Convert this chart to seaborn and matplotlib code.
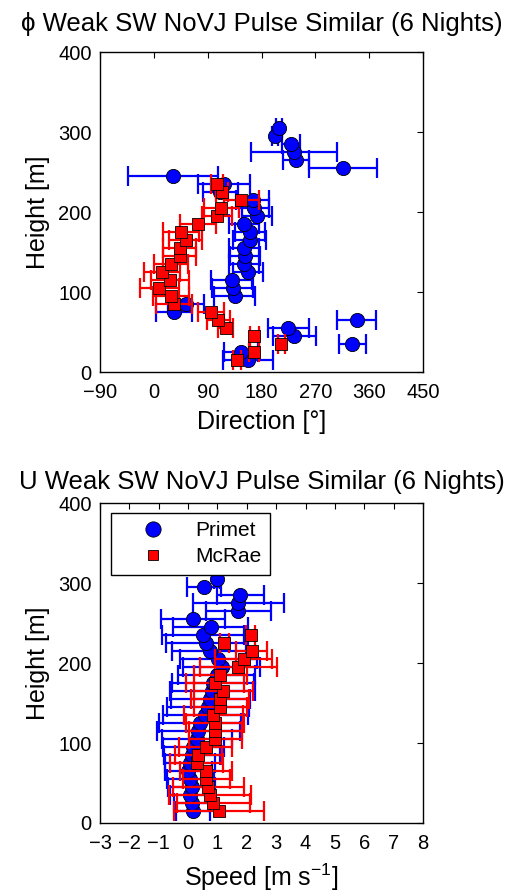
import matplotlib
matplotlib.use('Agg')
import matplotlib.pyplot as plt
from matplotlib.lines import Line2D
import seaborn as sns
import pandas as pd

# ---------------- data ----------------
heights_primet = [15, 25, 35, 45, 55, 65, 75, 85, 95, 105, 115, 125, 135, 145, 155,
                  165, 175, 185, 195, 205, 215, 225, 235, 245, 255, 265, 275, 285, 295, 305]
heights_mcrae = [15, 25, 35, 45, 55, 65, 75, 85, 95, 105, 115, 125, 135, 145, 155,
                 165, 175, 185, 195, 205, 215, 225, 235]

dir_primet = [157, 146, 332, 235, 225, 339, 33, 53, 135, 132, 130, 158, 150, 152, 150,
              160, 160, 150, 172, 168, 165, 111, 117, 32, 316, 238, 234, 230, 203, 210]
dir_primet_err = [42, 28, 22, 36, 34, 32, 30, 30, 34, 34, 34, 25, 25, 25, 25,
                  28, 25, 25, 25, 25, 28, 29, 43, 75, 57, 22, 72, 15, 5, 5]
dir_mcrae = [139, 167, 213, 168, 120, 108, 96, 33, 28, 9, 27, 13, 29, 43, 43,
             53, 45, 74, 106, 113, 146, 114, 106]
dir_mcrae_err = [7, 8, 6, 8, 12, 20, 22, 30, 30, 33, 32, 30, 28, 28, 28,
                 28, 30, 30, 25, 30, 29, 10, 10]

spd_primet = [0.16, 0.13, 0.07, 0.13, 0.07, 0.01, 0.05, 0.13, 0.18, 0.30, 0.35, 0.41, 0.58, 0.69, 0.75,
              0.83, 0.86, 0.97, 1.14, 1.03, 0.75, 0.60, 0.50, 0.77, 0.16, 1.71, 1.71, 1.77, 0.54, 0.98]
spd_primet_err = [0.57, 0.60, 0.70, 0.80, 0.80, 0.80, 0.85, 0.95, 1.05, 1.20, 1.40, 1.40, 1.45, 1.40, 1.35,
                  1.45, 1.40, 1.30, 1.30, 1.30, 1.30, 1.36, 1.40, 1.27, 1.08, 1.10, 1.56, 0.80, 0.57, 0.10]
spd_mcrae = [1.06, 0.86, 0.75, 0.69, 0.61, 0.61, 0.29, 0.35, 0.60, 0.92, 0.92, 0.92, 0.86, 1.09, 1.09,
             1.20, 0.92, 1.10, 1.71, 1.89, 2.17, 1.23, 2.13]
spd_mcrae_err = [1.53, 1.25, 1.40, 1.20, 0.80, 0.90, 0.90, 0.80, 0.90, 0.90, 0.90, 1.00, 1.00, 0.90, 1.00,
                 1.00, 1.00, 0.90, 1.30, 0.97, 0.53, 0.15, 0.15]

series_names = ['Primet', 'McRae']
dir_ticks = [-90, 0, 90, 180, 270, 360, 450]
spd_ticks = [-3, -2, -1, 0, 1, 2, 3, 4, 5, 6, 7, 8]
height_ticks = [0, 100, 200, 300, 400]
title_dir = 'ϕ Weak SW NoVJ Pulse Similar (6 Nights)'
title_spd = 'U Weak SW NoVJ Pulse Similar (6 Nights)'

# ---------------- style ----------------
sns.set_style('white')
plt.rcParams['font.family'] = ['Liberation Sans', 'DejaVu Sans']
plt.rcParams['mathtext.fontset'] = 'custom'
plt.rcParams['mathtext.rm'] = 'Liberation Sans'
plt.rcParams['mathtext.it'] = 'Liberation Sans:italic'
plt.rcParams['axes.unicode_minus'] = True
plt.rcParams['text.color'] = 'black'
plt.rcParams['axes.labelcolor'] = 'black'
plt.rcParams['xtick.color'] = 'black'
plt.rcParams['ytick.color'] = 'black'

BLUE = '#0000ff'
RED = '#ff0000'

df_p = pd.DataFrame({'h': heights_primet, 'dir': dir_primet, 'dir_err': dir_primet_err,
                     'spd': spd_primet, 'spd_err': spd_primet_err})
df_m = pd.DataFrame({'h': heights_mcrae, 'dir': dir_mcrae, 'dir_err': dir_mcrae_err,
                     'spd': spd_mcrae, 'spd_err': spd_mcrae_err})

fig = plt.figure(figsize=(5.13, 8.96), dpi=100)
ax1 = fig.add_axes([0.195, 0.5848, 0.6296, 0.357])
ax2 = fig.add_axes([0.195, 0.0815, 0.6296, 0.357])


def draw(ax, col, errcol):
    ax.errorbar(df_p[col], df_p['h'], xerr=df_p[errcol], fmt='none', ecolor=BLUE,
                elinewidth=1.6, capsize=7, capthick=1.6, zorder=2)
    sns.scatterplot(data=df_p, x=col, y='h', marker='o', s=105, color=BLUE,
                    edgecolor='black', linewidth=0.6, ax=ax, zorder=3, legend=False)
    ax.errorbar(df_m[col], df_m['h'], xerr=df_m[errcol], fmt='none', ecolor=RED,
                elinewidth=1.6, capsize=7, capthick=1.6, zorder=4)
    sns.scatterplot(data=df_m, x=col, y='h', marker='s', s=72, color=RED,
                    edgecolor='black', linewidth=0.6, ax=ax, zorder=5, legend=False)


def style(ax, xticks, xlabel, title, tpad):
    ax.set_xlim(xticks[0], xticks[-1])
    ax.set_ylim(0, 400)
    ax.set_xticks(xticks)
    ax.set_yticks(height_ticks)
    ax.tick_params(direction='in', top=True, right=True, length=4, width=0.8,
                   labelsize=14.5)
    ax.tick_params(axis='x', pad=8)
    ax.tick_params(axis='y', pad=6)
    for s in ax.spines.values():
        s.set_color('black')
        s.set_linewidth(1.0)
    ax.set_xlabel(xlabel, fontsize=18, labelpad=6)
    ax.set_ylabel('Height [m]', fontsize=18, labelpad=6)
    ax.set_title(title, fontsize=18.5, pad=tpad)


draw(ax1, 'dir', 'dir_err')
style(ax1, dir_ticks, 'Direction [°]', title_dir, 15)

draw(ax2, 'spd', 'spd_err')
style(ax2, spd_ticks, 'Speed [m s$^{-1}$]', title_spd, 10)

handles = [Line2D([], [], linestyle='none', marker='o', markersize=11, markerfacecolor=BLUE,
                  markeredgecolor='black', markeredgewidth=0.6, label=series_names[0]),
           Line2D([], [], linestyle='none', marker='s', markersize=7.5, markerfacecolor=RED,
                  markeredgecolor='black', markeredgewidth=0.6, label=series_names[1])]
leg = ax2.legend(handles=handles, loc='upper left', bbox_to_anchor=(0.034, 0.97),
                 fontsize=15, frameon=True, fancybox=False, edgecolor='black',
                 borderpad=0.4, handletextpad=0.4, labelspacing=0.35, handlelength=3.25,
                 borderaxespad=0)
leg.get_frame().set_linewidth(1.0)
leg.get_frame().set_alpha(1)

fig.savefig('out.png', dpi=100, facecolor='white')
